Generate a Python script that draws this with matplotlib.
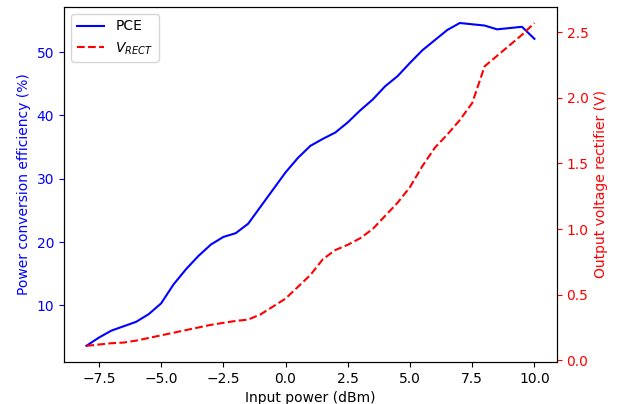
import matplotlib
matplotlib.use("Agg")
import matplotlib.pyplot as plt
import numpy as np

input_power = [-8, -7.5, -7, -6.5, -6, -5.5, -5, -4.5, -4, -3.5, -3, -2.5, -2, -1.5,
               -1, -0.5, 0, 0.5, 1, 1.5, 2, 2.5, 3, 3.5, 4, 4.5, 5, 5.5, 6, 6.5,
               7, 7.5, 8, 8.5, 9, 9.5, 10]
pce = [3.6, 4.9, 6.0, 6.7, 7.4, 8.6, 10.3, 13.3, 15.7, 17.8, 19.6, 20.8, 21.4, 22.9,
       25.6, 28.3, 31.0, 33.3, 35.2, 36.3, 37.3, 38.9, 40.8, 42.5, 44.6, 46.2, 48.3,
       50.3, 51.9, 53.5, 54.6, 54.4, 54.2, 53.6, 53.8, 54.0, 52.1]
v_rect = [0.11, 0.12, 0.13, 0.135, 0.15, 0.17, 0.19, 0.21, 0.23, 0.25, 0.27, 0.285,
          0.30, 0.31, 0.35, 0.41, 0.47, 0.56, 0.65, 0.77, 0.84, 0.88, 0.93, 1.00,
          1.10, 1.20, 1.32, 1.48, 1.62, 1.72, 1.83, 1.96, 2.24, 2.32, 2.40, 2.48, 2.57]

fig = plt.figure(figsize=(6.18, 4.04), dpi=100)
ax = fig.add_axes([0.1036, 0.104, 0.7974, 0.879])
l1, = ax.plot(input_power, pce, 'b-', label='PCE')
ax.set_xlabel('Input power (dBm)')
ax.set_ylabel('Power conversion efficiency (%)', color='blue')
ax.tick_params(axis='y', colors='blue')

ax2 = ax.twinx()
l2, = ax2.plot(input_power, v_rect, 'r--', label='$V_{RECT}$')
ax2.set_ylabel('Output voltage rectifier (V)', color='red')
ax2.tick_params(axis='y', colors='red')

ax.legend(handles=[l1, l2], loc='upper left')
fig.savefig('out.png', dpi=100)
